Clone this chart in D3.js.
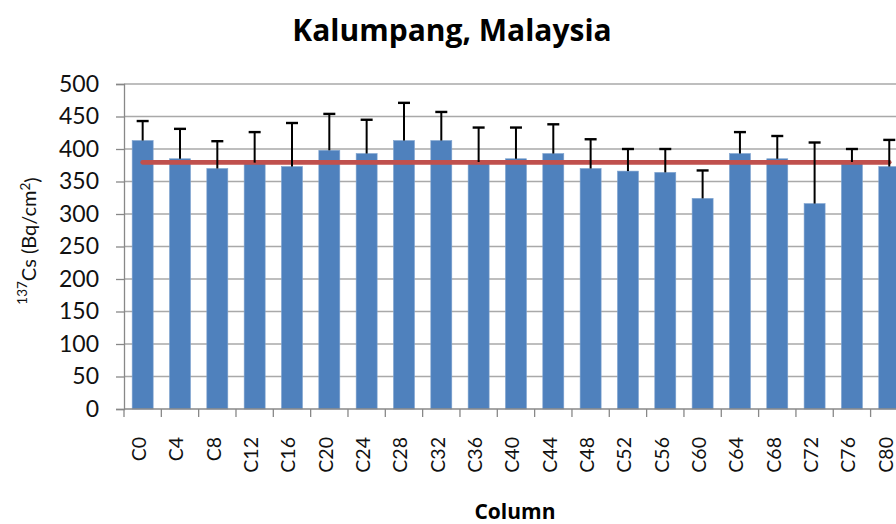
<!DOCTYPE html>
<html>
<head>
<meta charset="utf-8">
<script src="https://cdn.jsdelivr.net/npm/d3@7/dist/d3.min.js"></script>
<style>
  html, body { margin: 0; padding: 0; background: #fff; overflow: hidden; }
  svg { display: block; font-family: Lato, "Open Sans", sans-serif; }
</style>
</head>
<body>
<svg id="chart" width="896" height="524"></svg>
<script>
// ---- data ----
const categories = ["C0","C4","C8","C12","C16","C20","C24","C28","C32","C36","C40",
                    "C44","C48","C52","C56","C60","C64","C68","C72","C76","C80"];
const values     = [413,385,370,379,373,398,393,413,413,380,385,
                    393,370,366,364,324,393,385,316,380,373];
const errors     = [30,46,42,47,67,56,52,58,44,53,48,
                    45,45,34,36,43,33,35,94,20,41];
const meanValue  = 379.5;
const yTicks     = [0,50,100,150,200,250,300,350,400,450,500];
const titleText  = "Kalumpang, Malaysia";
const xTitleText = "Column";

// ---- layout ----
const plot = { left: 124, top: 84, bottom: 409, step: 37.33 };
const plotRight = plot.left + plot.step * categories.length;

const svg = d3.select("#chart");

const x = d3.scaleBand()
  .domain(categories)
  .range([plot.left, plotRight])
  .paddingInner(0.4375)
  .paddingOuter(0.21875);

const y = d3.scaleLinear().domain([0, 500]).range([plot.bottom, plot.top]);

// gridlines
svg.append("g")
  .selectAll("line")
  .data(yTicks.filter(d => d > 0))
  .join("line")
  .attr("x1", plot.left).attr("x2", plotRight)
  .attr("y1", d => y(d)).attr("y2", d => y(d))
  .attr("stroke", "#a9a9a9").attr("stroke-width", 1.3);

// bars
svg.append("g")
  .selectAll("rect")
  .data(values)
  .join("rect")
  .attr("x", (d, i) => x(categories[i]))
  .attr("width", x.bandwidth())
  .attr("y", d => y(d))
  .attr("height", d => y(0) - y(d))
  .attr("fill", "#4f81bd")
  .attr("stroke", "#7fa3cf")
  .attr("stroke-width", 0.6);

// mean line
const cx = c => x(c) + x.bandwidth() / 2;
svg.append("line")
  .attr("x1", cx(categories[0]))
  .attr("x2", cx(categories[categories.length - 1]))
  .attr("y1", y(meanValue)).attr("y2", y(meanValue))
  .attr("stroke", "#c0504d").attr("stroke-width", 4.6)
  .attr("stroke-linecap", "round");

// error bars (plus only)
const eg = svg.append("g").attr("stroke", "#000").attr("stroke-width", 2);
values.forEach((v, i) => {
  const c = cx(categories[i]);
  eg.append("line").attr("x1", c).attr("x2", c)
    .attr("y1", y(v)).attr("y2", y(v + errors[i]));
  eg.append("line").attr("x1", c - 6).attr("x2", c + 6)
    .attr("y1", y(v + errors[i])).attr("y2", y(v + errors[i]))
    .attr("stroke-width", 2.4);
});

// y axis
const yAxis = svg.append("g").attr("transform", `translate(${plot.left},0)`)
  .call(d3.axisLeft(y).tickValues(yTicks).tickSize(8).tickPadding(17).tickFormat(d3.format("d")));
yAxis.select(".domain").attr("stroke", "#888").attr("stroke-width", 1.3);
yAxis.selectAll(".tick line").attr("stroke", "#888").attr("stroke-width", 1.3);
yAxis.selectAll(".tick text")
  .attr("font-size", 23).attr("fill", "#111")
  .attr("font-family", "Lato, sans-serif");

// x axis line + ticks at band boundaries
svg.append("line")
  .attr("x1", plot.left).attr("x2", plotRight)
  .attr("y1", plot.bottom).attr("y2", plot.bottom)
  .attr("stroke", "#888").attr("stroke-width", 1.3);
svg.append("g")
  .selectAll("line")
  .data(d3.range(categories.length + 1))
  .join("line")
  .attr("x1", i => plot.left + i * x.step())
  .attr("x2", i => plot.left + i * x.step())
  .attr("y1", plot.bottom).attr("y2", plot.bottom + 8)
  .attr("stroke", "#888").attr("stroke-width", 1.3);

// x tick labels (rotated)
svg.append("g")
  .selectAll("text")
  .data(categories)
  .join("text")
  .attr("transform", d => `translate(${cx(d) - 3},437) rotate(-90)`)
  .attr("text-anchor", "end")
  .attr("dy", "0.32em")
  .attr("font-size", 19.5)
  .attr("fill", "#111")
  .text(d => d);

// title
svg.append("text")
  .attr("x", 452).attr("y", 41)
  .attr("text-anchor", "middle")
  .attr("font-family", "'Open Sans', sans-serif")
  .attr("font-size", 30).attr("font-weight", "bold")
  .attr("fill", "#000")
  .text(titleText);

// x axis title
svg.append("text")
  .attr("x", 515).attr("y", 519)
  .attr("text-anchor", "middle")
  .attr("font-family", "'Open Sans', sans-serif")
  .attr("font-size", 21).attr("font-weight", "bold")
  .attr("fill", "#000")
  .text(xTitleText);

// y axis title
const yt = svg.append("text")
  .attr("transform", "translate(33,241) rotate(-90)")
  .attr("text-anchor", "middle")
  .attr("font-size", 20)
  .attr("fill", "#111");
yt.append("tspan").attr("font-size", 13.5).attr("dy", "-0.45em").text("137");
yt.append("tspan").attr("dy", "0.45em").text("Cs (Bq/cm");
yt.append("tspan").attr("font-size", 13.5).attr("dy", "-0.45em").text("2");
yt.append("tspan").attr("dy", "0.45em").text(")");
</script>
</body>
</html>
